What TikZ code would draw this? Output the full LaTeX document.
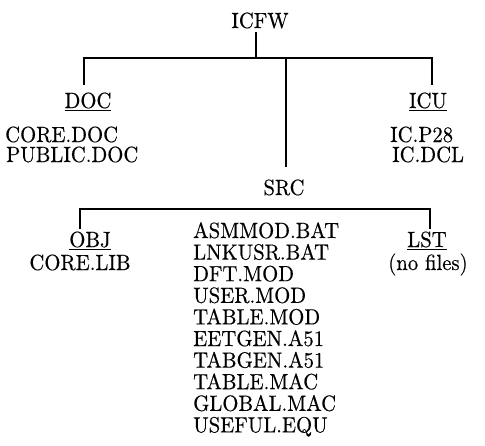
\documentclass[tikz,border=0pt]{standalone}
\usepackage{fontspec}
\setmainfont{lmroman10-regular}[Extension=.otf,FakeStretch=0.94,FakeBold=0.4]
\begin{document}
\begin{tikzpicture}[x=1pt,y=-1pt,
  lbl/.style={inner sep=0pt,font=\fontsize{22}{24}\selectfont},
  conn/.style={line width=1.1pt}]
\useasboundingbox (0,0) rectangle (485,445);
% top
\node[lbl,anchor=base] (icfw) at (260,28) {ICFW};
\coordinate (t1) at (256,32);
\coordinate (j1) at (256,58);
\coordinate (hl) at (84,58);
\coordinate (hr) at (432,58);
\node[lbl,anchor=base] (doc) at (88,108) {\underline{DOC}};
\node[lbl,anchor=base west] (coredoc) at (5,142) {CORE.DOC};
\node[lbl,anchor=base west] (publicdoc) at (6,162) {PUBLIC.DOC};
\node[lbl,anchor=base] (icu) at (428,108) {\underline{ICU}};
\node[lbl,anchor=base west] (icp) at (390,142) {IC.P28};
\node[lbl,anchor=base west] (icd) at (392,162) {IC.DCL};
\coordinate (docend) at (84,85);
\coordinate (icuend) at (432,85);
\coordinate (srctop) at (286,58);
\coordinate (srcend) at (286,167);
\node[lbl,anchor=base] (src) at (284,195) {SRC};
\coordinate (h2l) at (80,209);
\coordinate (h2r) at (430,209);
\coordinate (objend) at (80,229);
\coordinate (lstend) at (430,229);
\node[lbl,anchor=base] (obj) at (90,247) {\underline{OBJ}};
\node[lbl,anchor=base] (corelib) at (80,270) {CORE.LIB};
\node[lbl,anchor=base] (lst) at (427,247) {\underline{LST}};
\node[lbl,anchor=base] (nofiles) at (428,270) {(no files)};
\foreach \t [count=\i from 0] in {ASMMOD.BAT,LNKUSR.BAT,DFT.MOD,USER.MOD,TABLE.MOD,EETGEN.A51,TABGEN.A51,TABLE.MAC,GLOBAL.MAC,USEFUL.EQU}
  \node[lbl,anchor=base west] (f\i) at (193,238+\i*21.6) {\t};
% connectors
\draw[conn] (t1) -- (j1);
\draw[conn] (docend) -- (hl) -- (hr) -- (icuend);
\draw[conn] (srctop) -- (srcend);
\draw[conn] (objend) -- (h2l) -- (h2r) -- (lstend);
\end{tikzpicture}
\end{document}
